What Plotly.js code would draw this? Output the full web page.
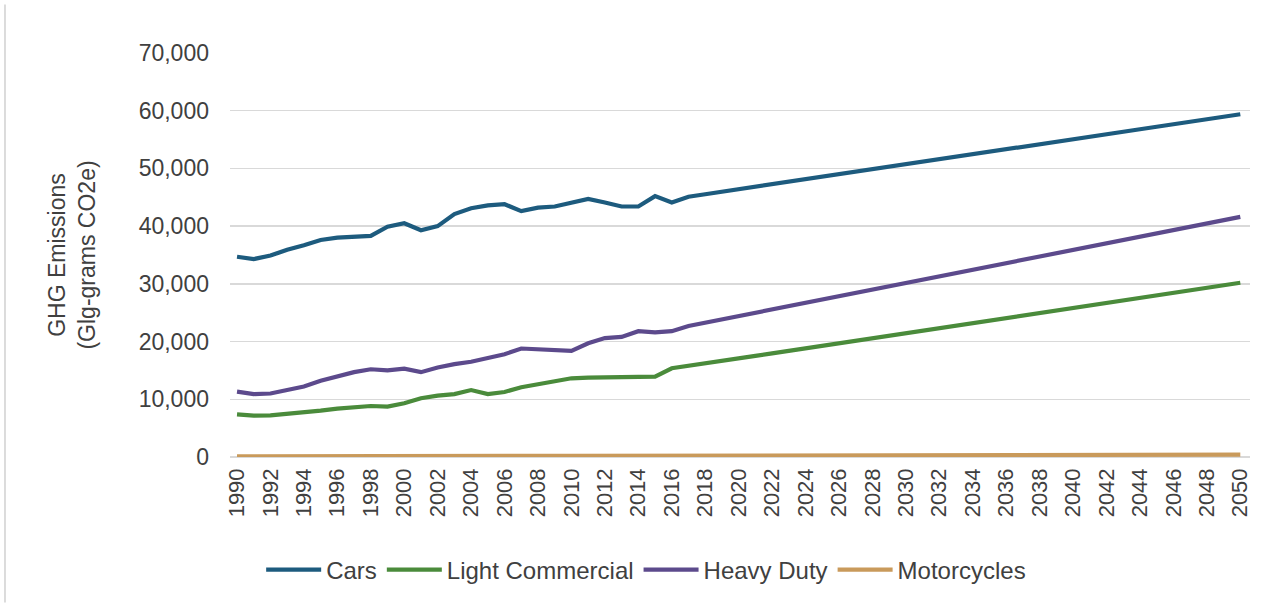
<!DOCTYPE html>
<html>
<head>
<meta charset="utf-8">
<script src="https://cdn.plot.ly/plotly-3.0.1.min.js"></script>
<style>
  html, body { margin: 0; padding: 0; background: #ffffff; }
  #chart { width: 1277px; height: 604px; }
</style>
</head>
<body>
<div id="chart"></div>
<script>
const years = [1990,1991,1992,1993,1994,1995,1996,1997,1998,1999,
  2000,2001,2002,2003,2004,2005,2006,2007,2008,2009,
  2010,2011,2012,2013,2014,2015,2016,2017,2018,2019,
  2020,2021,2022,2023,2024,2025,2026,2027,2028,2029,
  2030,2031,2032,2033,2034,2035,2036,2037,2038,2039,
  2040,2041,2042,2043,2044,2045,2046,2047,2048,2049,2050];

const cars = [34700,34300,34900,35900,36700,37600,38000,38100,38300,39900,
  40500,39300,40000,42100,43100,43600,43800,42600,43200,43400,
  44100,44700,44100,43400,43400,45200,44100,45100,45530,45970,
  46400,46830,47270,47700,48130,48560,49000,49430,49860,50300,
  50730,51160,51600,52030,52460,52890,53330,53760,54190,54630,
  55060,55490,55930,56360,56790,57220,57660,58090,58520,58960,59390];

const lightCommercial = [7390,7160,7220,7450,7680,8030,8380,8610,8840,8720,
  9300,10170,10630,10900,11600,10900,11270,12080,12600,13120,
  13640,13750,13750,13810,13920,13920,15370,15770,16210,16640,
  17080,17520,17960,18390,18830,19270,19700,20140,20580,21010,
  21450,21890,22330,22760,23200,23640,24070,24510,24950,25380,
  25820,26260,26700,27130,27570,28010,28440,28880,29320,29750,30190];

const heavyDuty = [11320,10900,11000,11600,12200,13200,14000,14700,15200,15000,
  15300,14700,15500,16100,16500,17100,17800,18800,18700,18500,
  18400,19700,20600,20800,21800,21600,21800,22700,23270,23850,
  24420,24990,25570,26140,26710,27280,27860,28430,29000,29580,
  30150,30720,31300,31870,32440,33010,33590,34160,34730,35310,
  35880,36450,37030,37600,38170,38740,39320,39890,40460,41040,41610];

const motorcycles = [120,115,115,120,125,130,135,140,145,150,
  150,155,160,165,170,175,180,190,195,200,
  205,210,215,220,225,235,240,245,250,255,
  260,265,270,275,280,285,290,295,300,305,
  310,315,320,325,330,335,340,345,350,355,
  360,365,370,375,380,385,390,395,400,405,410];

const seriesNames = ["Cars", "Light Commercial", "Heavy Duty", "Motorcycles"];
const seriesValues = [cars, lightCommercial, heavyDuty, motorcycles];
const seriesColors = ["#1d5b7e", "#4a8b3b", "#5c4a8c", "#c99a5b"];

const traces = seriesNames.map((name, i) => ({
  type: "scatter",
  mode: "lines",
  name: name,
  x: years,
  y: seriesValues[i],
  line: { color: seriesColors[i], width: 4.2 },
  hoverinfo: "x+y+name"
}));

const fontFamily = '"Liberation Sans", Arial, sans-serif';

const layout = {
  width: 1277,
  height: 604,
  paper_bgcolor: "#ffffff",
  plot_bgcolor: "#ffffff",
  font: { family: fontFamily, color: "#404040", size: 23 },
  margin: { l: 230, r: 27, t: 53, b: 147, pad: 0 },
  showlegend: true,
  legend: {
    orientation: "h",
    x: 0.408,
    xanchor: "center",
    y: -0.28,
    yanchor: "middle",
    itemwidth: 55,
    font: { family: fontFamily, size: 24, color: "#404040" },
    bgcolor: "rgba(0,0,0,0)"
  },
  xaxis: {
    type: "linear",
    range: [1989.58, 2050.58],
    tickmode: "linear",
    tick0: 1990,
    dtick: 2,
    tickangle: -90,
    showgrid: false,
    zeroline: false,
    showline: false,
    ticks: "",
    tickfont: { family: fontFamily, size: 22, color: "#404040" },
    ticklabelstandoff: 6,
    fixedrange: true
  },
  yaxis: {
    range: [0, 70000],
    tickmode: "linear",
    tick0: 0,
    dtick: 10000,
    tickformat: ",d",
    showgrid: true,
    gridcolor: "#d9d9d9",
    gridwidth: 1.5,
    zeroline: true,
    zerolinecolor: "#d9d9d9",
    zerolinewidth: 1.5,
    showline: false,
    ticks: "",
    ticklabelstandoff: 20,
    tickfont: { family: fontFamily, size: 23, color: "#404040" },
    title: {
      text: "GHG Emissions<br>(Glg-grams CO2e)",
      font: { family: fontFamily, size: 23, color: "#404040" },
      standoff: 36
    },
    fixedrange: true
  },
  shapes: [{
    type: "line",
    xref: "paper", yref: "paper",
    x0: -0.2206, x1: -0.2206,
    y0: 1.12, y1: -0.36,
    line: { color: "#d0d0d0", width: 1.5 }
  }]
};

Plotly.newPlot("chart", traces, layout, { displayModeBar: false, staticPlot: true });
</script>
</body>
</html>
